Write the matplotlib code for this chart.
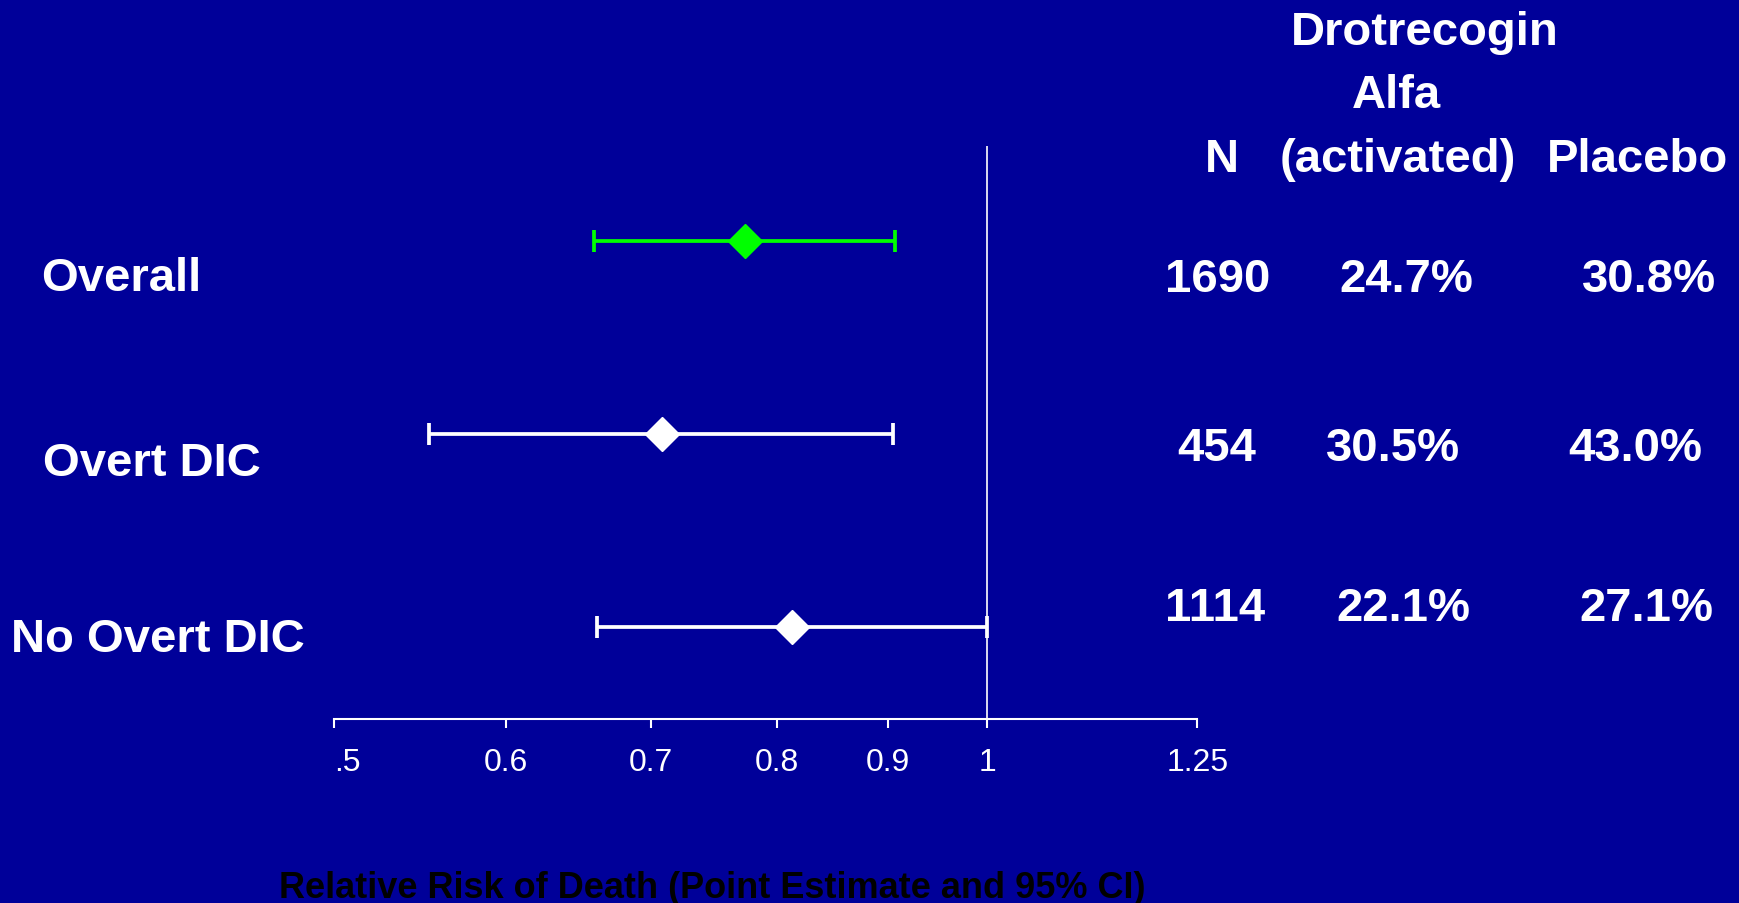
import matplotlib
matplotlib.use('Agg')
import matplotlib.pyplot as plt
import numpy as np

# data
groups = ['Overall', 'Overt DIC', 'No Overt DIC']
rr = [0.773, 0.708, 0.813]
ci_low = [0.659, 0.553, 0.661]
ci_high = [0.907, 0.905, 1.0]
n_patients = ['1690', '454', '1114']
drotrecogin = ['24.7%', '30.5%', '22.1%']
placebo = ['30.8%', '43.0%', '27.1%']
xticks = [0.5, 0.6, 0.7, 0.8, 0.9, 1.0, 1.25]
xtick_labels = ['.5', '0.6', '0.7', '0.8', '0.9', '1', '1.25']

bg = '#000099'
green = '#00ff00'
W, H = 1740, 904


def px(x, y):
    # pixel position (from top left) to figure fraction
    return x / W, 1 - y / H


fig = plt.figure(figsize=(W / 100, H / 100), dpi=100, facecolor=bg)
ax = fig.add_axes([334 / W, 1 - 720 / H, (1197.4 - 334) / W, (720 - 146.5) / H])
ax.set_facecolor(bg)
ax.set_xscale('log')
ax.set_xlim(0.5, 1.25)
ax.set_ylim(-0.477, 2.495)

ypos = [2, 1, 0]
colors = [green, 'white', 'white']
for y, m, lo, hi, c in zip(ypos, rr, ci_low, ci_high, colors):
    ax.errorbar(m, y, xerr=[[m - lo], [hi - m]], fmt='none', ecolor=c,
                elinewidth=2.7, capsize=8, capthick=2.7, zorder=2)
    ax.plot(m, y, marker='D', ms=17.5, color=c, mec=c, zorder=3)

ax.axvline(1.0, color='white', lw=1.2, zorder=1)

for s in ['top', 'left', 'right']:
    ax.spines[s].set_visible(False)
ax.spines['bottom'].set_color('white')
ax.spines['bottom'].set_linewidth(1.5)
ax.set_yticks([])
ax.xaxis.set_minor_locator(matplotlib.ticker.NullLocator())
ax.set_xticks(xticks)
ax.set_xticklabels(xtick_labels)
ax.tick_params(axis='x', colors='white', length=6.5, width=1.5, pad=14,
               labelsize=23)
for lab in ax.get_xticklabels():
    lab.set_family(['Liberation Sans Narrow', 'Liberation Sans'])
ax.get_xticklabels()[0].set_horizontalalignment('left')

bold = dict(color='white', fontsize=34, fontweight='bold',
            family=['Liberation Sans', 'DejaVu Sans'])

# row labels
fig.text(*px(41, 291), groups[0], va='baseline', ha='left', **bold)
fig.text(*px(43, 476), groups[1], va='baseline', ha='left', **bold)
fig.text(*px(11, 652), groups[2], va='baseline', ha='left', **bold)

# table header
fig.text(*px(1425, 45), 'Drotrecogin', va='baseline', ha='center', **bold)
fig.text(*px(1396, 108), 'Alfa', va='baseline', ha='center', **bold)
fig.text(*px(1222, 172), 'N', va='baseline', ha='center', **bold)
fig.text(*px(1398, 172), '(activated)', va='baseline', ha='center', **bold)
fig.text(*px(1638, 172), 'Placebo', va='baseline', ha='center', **bold)

# table values
row_base = [292, 461, 621]
col_n = [1218, 1217, 1215]
col_d = [1406, 1393, 1403]
col_p = [1649, 1635, 1646]
for i in range(3):
    fig.text(*px(col_n[i], row_base[i]), n_patients[i], va='baseline', ha='center', **bold)
    fig.text(*px(col_d[i], row_base[i]), drotrecogin[i], va='baseline', ha='center', **bold)
    fig.text(*px(col_p[i], row_base[i]), placebo[i], va='baseline', ha='center', **bold)

fig.text(*px(712, 898), 'Relative Risk of Death (Point Estimate and 95% CI)',
         color='black', fontsize=26, fontweight='bold', va='baseline', ha='center',
         family=['Liberation Sans Narrow', 'Liberation Sans'])

fig.savefig('out.png', dpi=100, facecolor=bg)
